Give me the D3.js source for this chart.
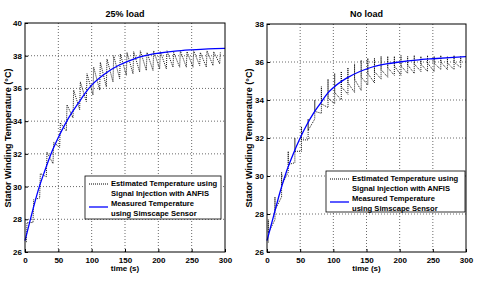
<!DOCTYPE html>
<html>
<head>
<meta charset="utf-8">
<title>Stator winding temperature</title>
<script src="https://cdn.jsdelivr.net/npm/d3@7"></script>
<style>
  body { margin: 0; background: #fff; }
  svg text { font-family: "Liberation Sans", Arial, sans-serif; font-weight: bold; fill: #000; }
  .grid line { stroke: #444; stroke-dasharray: 1,2; stroke-width: 0.8; }
</style>
<script>
// measured temperature (Simscape sensor)
var measTime = [0, 10, 20, 30, 40, 50, 60, 70, 80, 90, 100, 120, 140, 160, 180, 200, 225, 250, 275, 300];
var measLeft = [26.7, 28.3, 29.8, 31.0, 32.1, 33.0, 33.8, 34.5, 35.1, 35.7, 36.2, 36.9, 37.4, 37.75, 38.0, 38.15, 38.28, 38.36, 38.42, 38.45];
var measRight = [26.6, 27.9, 29.2, 30.3, 31.2, 32.0, 32.7, 33.3, 33.8, 34.3, 34.65, 35.15, 35.5, 35.75, 35.9, 36.0, 36.1, 36.17, 36.23, 36.28];

// estimated temperature (signal injection + ANFIS), one swing per injection
var estTime = [2, 12, 22, 32, 42, 52, 62, 72, 82, 92, 102, 112, 122, 132, 142, 152, 162, 172, 182, 192, 202, 212, 222, 232, 242, 252, 262, 272, 282, 292];
var estLowLeft = [26.6, 27.8, 29.3, 30.6, 31.4, 32.4, 33.4, 34.2, 34.7, 35.2, 35.6, 35.9, 36.1, 36.4, 36.6, 36.8, 36.9, 37.0, 37.1, 37.1, 37.2, 37.2, 37.3, 37.3, 37.3, 37.3, 37.4, 37.3, 37.4, 37.5];
var estHighLeft = [27.8, 29.2, 30.8, 32.1, 32.7, 33.9, 35.0, 35.9, 36.4, 36.9, 37.3, 37.6, 37.8, 38.0, 38.1, 38.2, 38.25, 38.3, 38.2, 38.3, 38.25, 38.3, 38.2, 38.3, 38.25, 38.3, 38.2, 38.3, 38.25, 38.2];
var estLowRight = [26.5, 27.7, 28.9, 30.2, 30.7, 31.3, 31.9, 33.0, 33.3, 33.6, 33.8, 34.0, 34.3, 34.4, 34.5, 34.8, 34.9, 35.1, 35.2, 35.3, 35.3, 35.4, 35.4, 35.5, 35.5, 35.5, 35.6, 35.6, 35.6, 35.7];
var estHighRight = [27.7, 28.9, 30.2, 31.3, 32.0, 32.6, 33.0, 34.0, 34.7, 35.1, 35.4, 35.5, 35.7, 35.9, 36.1, 36.2, 36.2, 36.3, 36.3, 36.3, 36.35, 36.3, 36.35, 36.3, 36.35, 36.3, 36.35, 36.3, 36.35, 36.3];
var estMidRight = [27.0, 28.2, 29.5, 30.6, 31.3, 31.9, 32.4, 33.4, 33.8, 34.1, 34.4, 34.7, 34.9, 35.1, 35.2, 35.4, 35.5, 35.6, 35.7, 35.8, 35.8, 35.85, 35.9, 35.9, 35.95, 35.95, 36.0, 35.95, 36.0, 36.0];

var xTicks = [0, 50, 100, 150, 200, 250, 300];
var yTicksLeft = [26, 28, 30, 32, 34, 36, 38, 40];
var yTicksRight = [26, 28, 30, 32, 34, 36, 38];

var titles = ['25% load', 'No load'];
var legendLabels = [['Estimated Temperature using', 'Signal Injection with ANFIS'], ['Measured Temperature', 'using Simscape Sensor']];

function drawPanel(svg, p) {
  var x = d3.scaleLinear().domain([0, 300]).range([p.x0, p.x1]);
  var y = d3.scaleLinear().domain([p.yTicks[0], p.yTicks[p.yTicks.length - 1]]).range([p.y1, p.y0]);
  var g = svg.append('g');

  // grid
  var grid = g.append('g').attr('class', 'grid');
  grid.selectAll('.gx').data(xTicks.slice(1, -1)).enter().append('line')
    .attr('x1', x).attr('x2', x).attr('y1', p.y0).attr('y2', p.y1);
  grid.selectAll('.gy').data(p.yTicks.slice(1, -1)).enter().append('line')
    .attr('x1', p.x0).attr('x2', p.x1).attr('y1', y).attr('y2', y);

  // estimated (dotted)
  var est = [];
  if (p.mid) {
    p.low.forEach(function (lo, i) {
      est.push([p.estTime[i], lo]);
      est.push([p.estTime[i], p.high[i]]);
      est.push([p.estTime[i], p.mid[i]]);
    });
  } else {
    p.low.forEach(function (lo, i) {
      est.push([p.estTime[i], lo]);
      est.push([p.estTime[i] + 1, p.high[i]]);
    });
  }
  var line = d3.line().x(function (d) { return x(d[0]); }).y(function (d) { return y(d[1]); });
  g.append('path').datum(est).attr('d', line)
    .attr('fill', 'none').attr('stroke', '#000').attr('stroke-width', 0.9).attr('stroke-dasharray', '1,1');

  // measured (blue)
  var meas = p.measTime.map(function (t, i) { return [t, p.meas[i]]; });
  g.append('path').datum(meas).attr('d', d3.line().curve(d3.curveMonotoneX)
      .x(function (d) { return x(d[0]); }).y(function (d) { return y(d[1]); }))
    .attr('fill', 'none').attr('stroke', '#0000ff').attr('stroke-width', 1.3);

  // frame
  g.append('rect').attr('x', p.x0).attr('y', p.y0).attr('width', p.x1 - p.x0).attr('height', p.y1 - p.y0)
    .attr('fill', 'none').attr('stroke', '#000').attr('stroke-width', 1);

  // ticks
  var xa = g.append('g').attr('transform', 'translate(0,' + p.y1 + ')')
    .call(d3.axisBottom(x).tickValues(xTicks).tickSize(-3).tickPadding(4));
  var ya = g.append('g').attr('transform', 'translate(' + p.x0 + ',0)')
    .call(d3.axisLeft(y).tickValues(p.yTicks).tickSize(-3).tickPadding(3));
  [xa, ya].forEach(function (a) {
    a.select('.domain').remove();
    a.selectAll('line').attr('stroke', '#000');
    a.selectAll('text').attr('font-size', 8).attr('font-family', null);
  });
  xa.selectAll('text').attr('dy', '0.9em');

  // titles
  var cx = (p.x0 + p.x1) / 2;
  g.append('text').attr('x', cx).attr('y', 17).attr('text-anchor', 'middle').attr('font-size', 9).text(p.title);
  g.append('text').attr('x', cx).attr('y', 271).attr('text-anchor', 'middle').attr('font-size', 8).text('time (s)');
  g.append('text').attr('transform', 'translate(' + p.ylx + ',138) rotate(-90)')
    .attr('text-anchor', 'middle').attr('font-size', 9).text('Stator Winding Temperature (\u00B0C)');

  // legend
  var L = p.legend;
  g.append('rect').attr('x', L.x).attr('y', L.y).attr('width', L.w).attr('height', L.h)
    .attr('fill', '#fff').attr('stroke', '#000').attr('stroke-width', 0.8);
  var rows = [{ dash: '1,1', color: '#000', ly: 8 }, { dash: null, color: '#0000ff', ly: 31 }];
  rows.forEach(function (r, i) {
    g.append('line').attr('x1', L.x + 4).attr('x2', L.x + 23).attr('y1', L.y + r.ly).attr('y2', L.y + r.ly)
      .attr('stroke', r.color).attr('stroke-width', r.dash ? 1 : 1.3).attr('stroke-dasharray', r.dash);
    legendLabels[i].forEach(function (s, j) {
      g.append('text').attr('x', L.x + 26).attr('y', L.y + 10 + i * 20 + j * 10).attr('font-size', 7.6).text(s);
    });
  });
}

window.onload = function () {
  var svg = d3.select('body').append('svg').attr('width', 480).attr('height', 281);
  drawPanel(svg, {
    x0: 25, x1: 225, y0: 23, y1: 252, yTicks: yTicksLeft, title: titles[0], ylx: 11,
    measTime: measTime, meas: measLeft, estTime: estTime, low: estLowLeft, high: estHighLeft,
    legend: { x: 85, y: 176, w: 136, h: 43 }
  });
  drawPanel(svg, {
    x0: 267, x1: 466, y0: 24, y1: 252, yTicks: yTicksRight, title: titles[1], ylx: 252,
    measTime: measTime, meas: measRight, estTime: estTime, low: estLowRight, high: estHighRight, mid: estMidRight,
    legend: { x: 326, y: 171, w: 139, h: 41 }
  });
};
</script>
</head>
<body>
</body>
</html>
